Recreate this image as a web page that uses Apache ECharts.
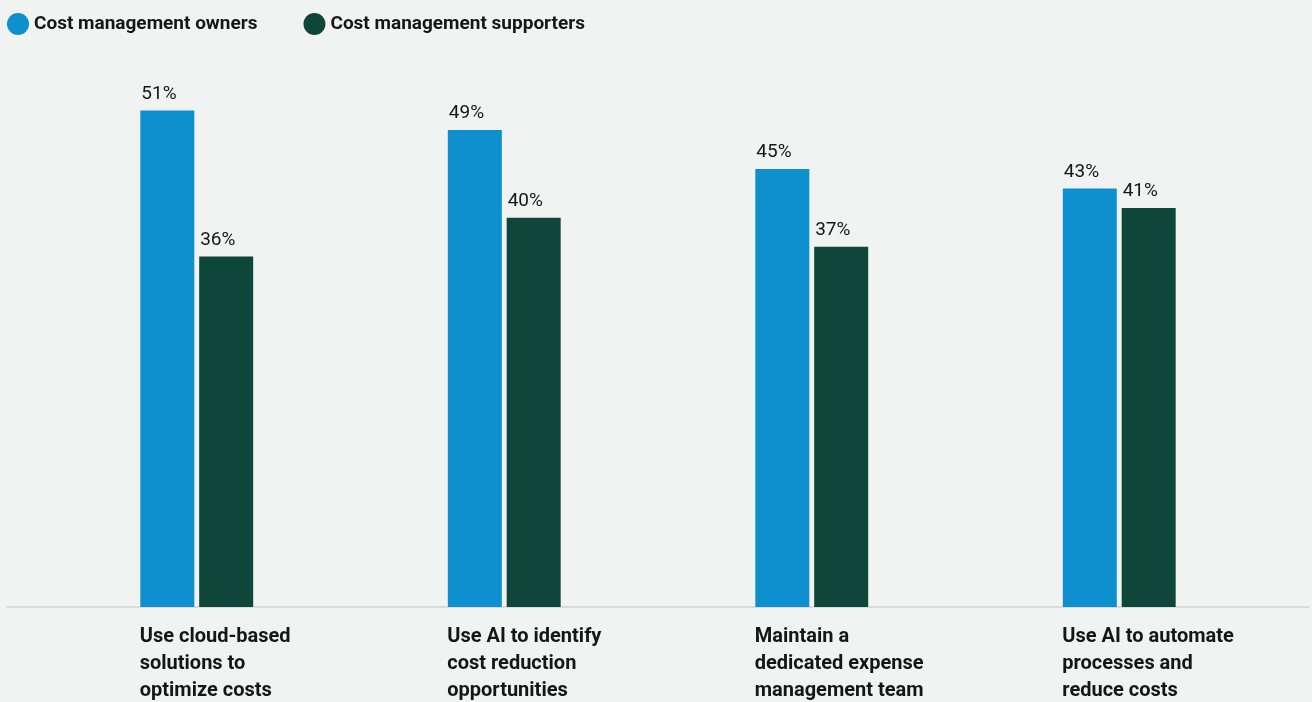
<!DOCTYPE html>
<html>
<head>
<meta charset="utf-8">
<script src="https://cdn.jsdelivr.net/npm/echarts@6/dist/echarts.min.js"></script>
<style>
  html, body { margin: 0; padding: 0; background: #f1f3f2; }
  #chart { width: 1312px; height: 702px; }
</style>
</head>
<body>
<div id="chart"></div>
<script>
// Cost-management practices by respondent group (% of respondents)
const categories = [
  'Use cloud-based\nsolutions to\noptimize costs',
  'Use AI to identify\ncost reduction\nopportunities',
  'Maintain a\ndedicated expense\nmanagement team',
  'Use AI to automate\nprocesses and\nreduce costs'
];
const seriesNames = ['Cost management owners', 'Cost management supporters'];
const ownersValues = [51, 49, 45, 43];
const supportersValues = [36, 40, 37, 41];

const BLUE = '#0e8fce';
const GREEN = '#0e473a';
const TEXT = '#161616';
const FONT = 'Roboto, "Noto Sans", sans-serif';

const valueLabel = {
  show: true,
  position: [1, -7],
  align: 'left',
  verticalAlign: 'bottom',
  formatter: p => p.value + '%',
  color: TEXT,
  fontFamily: FONT,
  fontSize: 19
};

const chart = echarts.init(document.getElementById('chart'));
chart.setOption({
  backgroundColor: '#f1f3f2',
  animation: false,
  legend: {
    left: 2,
    top: 8,
    icon: 'circle',
    itemWidth: 22,
    itemHeight: 22,
    itemGap: 46,
    data: seriesNames,
    textStyle: { color: TEXT, fontFamily: FONT, fontWeight: 'bold', fontSize: 19 }
  },
  grid: [
    { left: 43, right: 39, top: 23, bottom: 95, outerBoundsMode: 'none', containLabel: false },
    { left: 7, right: 3, top: 23, bottom: 95, outerBoundsMode: 'none', containLabel: false }
  ],
  xAxis: [
    {
      type: 'category',
      gridIndex: 0,
      data: categories,
      axisLine: { show: false },
      axisTick: { show: false },
      axisLabel: {
        align: 'left',
        padding: [0, 0, 0, -57],
        margin: 16,
        color: TEXT,
        fontFamily: FONT,
        fontWeight: 'bold',
        fontSize: 20,
        lineHeight: 27
      }
    },
    {
      type: 'category',
      gridIndex: 1,
      data: [''],
      axisLine: { show: true, lineStyle: { color: '#d2d4d3', width: 1.5 } },
      axisTick: { show: false },
      axisLabel: { show: false }
    }
  ],
  yAxis: [
    { type: 'value', gridIndex: 0, min: 0, max: 60, show: false },
    { type: 'value', gridIndex: 1, min: 0, max: 60, show: false }
  ],
  series: [
    {
      name: seriesNames[0],
      type: 'bar',
      xAxisIndex: 0,
      yAxisIndex: 0,
      data: ownersValues,
      barWidth: 54,
      barGap: '9%',
      itemStyle: { color: BLUE },
      label: valueLabel
    },
    {
      name: seriesNames[1],
      type: 'bar',
      xAxisIndex: 0,
      yAxisIndex: 0,
      data: supportersValues,
      barWidth: 54,
      barGap: '9%',
      itemStyle: { color: GREEN },
      label: valueLabel
    }
  ]
});
</script>
</body>
</html>
